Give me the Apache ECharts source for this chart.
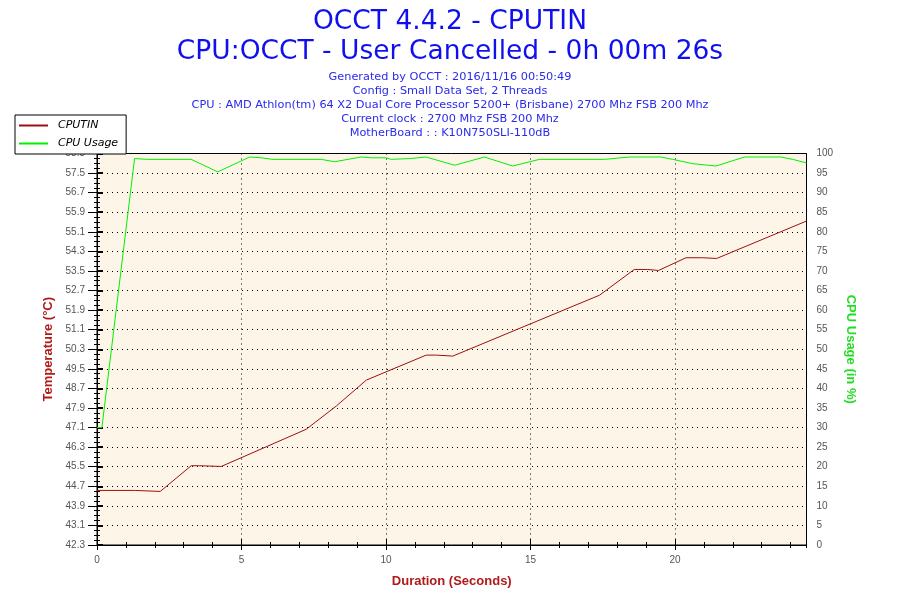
<!DOCTYPE html>
<html>
<head>
<meta charset="utf-8">
<script src="https://cdn.jsdelivr.net/npm/echarts@6/dist/echarts.min.js"></script>
<style>
html,body{margin:0;padding:0;background:#fff;}
#chart{width:900px;height:600px;}
</style>
</head>
<body>
<div id="chart"></div>
<script>
// ---- data ----
var titleLines = ['OCCT 4.4.2 - CPUTIN', 'CPU:OCCT - User Cancelled - 0h 00m 26s'];
var infoLines = [
  'Generated by OCCT : 2016/11/16 00:50:49',
  'Config : Small Data Set, 2 Threads',
  'CPU : AMD Athlon(tm) 64 X2 Dual Core Processor 5200+ (Brisbane) 2700 Mhz FSB 200 Mhz',
  'Current clock : 2700 Mhz FSB 200 Mhz',
  'MotherBoard : : K10N750SLI-110dB'
];
var seriesNames = ['CPUTIN', 'CPU Usage'];

var tempTime  = [0, 1.30, 1.33, 2.19, 3.26, 3.55, 3.61, 4.30, 7.24, 8.28, 9.32, 11.39, 11.75, 11.80, 12.31, 17.39, 18.59, 19.05, 19.11, 19.43, 20.38, 20.95, 21.01, 21.44, 24.55];
var tempValue = [44.53, 44.53, 44.49, 44.49, 45.54, 45.54, 45.51, 45.51, 47.03, 47.98, 49.04, 50.06, 50.06, 50.02, 50.02, 52.51, 53.56, 53.56, 53.52, 53.52, 54.04, 54.04, 54.01, 54.01, 55.54];

var cpuTime  = [0, 0.17, 1.30, 1.76, 3.26, 4.18, 5.28, 5.68, 6.09, 7.76, 8.22, 9.14, 9.49, 10.00, 10.18, 10.81, 11.39, 12.37, 13.41, 14.38, 15.31, 17.56, 18.42, 19.52, 19.92, 20.61, 21.42, 22.40, 23.67, 24.07, 24.55];
var cpuValue = [30, 30, 98.7, 98.5, 98.5, 95.3, 99.1, 98.9, 98.5, 98.5, 97.9, 99.1, 98.9, 98.9, 98.5, 98.7, 99.1, 97.0, 99.1, 96.8, 98.5, 98.5, 99.1, 99.1, 98.5, 97.4, 96.8, 99.1, 99.1, 98.5, 97.6];

var xMin = 0, xMax = 24.55, xStep = 5, xMinorStep = 1;
var tMin = 42.3, tMax = 58.3, tStep = 0.8;
var cMin = 0, cMax = 100, cStep = 5;

function zip(a, b) { return a.map(function (v, i) { return [v, b[i]]; }); }

var FONT = 'DejaVu Sans';
var tickColor = '#000';
var labelColor = '#555';
var tempColor = '#9e0f0f';
var cpuColor = '#00f000';

function xAx(opts) {
  var base = {
    type: 'value', min: xMin, max: xMax, interval: xStep, position: 'bottom',
    axisLine: { show: false }, axisTick: { show: false }, axisLabel: { show: false },
    splitLine: { show: false }
  };
  return Object.assign(base, opts);
}
function yAx(opts, isTemp) {
  var base = {
    type: 'value',
    min: isTemp ? tMin : cMin, max: isTemp ? tMax : cMax, interval: isTemp ? tStep : cStep,
    position: isTemp ? 'left' : 'right',
    axisLine: { show: false }, axisTick: { show: false }, axisLabel: { show: false },
    splitLine: { show: false }
  };
  return Object.assign(base, opts);
}

var titles = [
  { text: titleLines[0], left: 'center', top: 9, padding: 0,
    textStyle: { fontFamily: FONT, fontSize: 26.5, fontWeight: 'normal', color: '#1010ee' } },
  { text: titleLines[1], left: 'center', top: 39, padding: 0,
    textStyle: { fontFamily: FONT, fontSize: 26.5, fontWeight: 'normal', color: '#1010ee' } }
];
infoLines.forEach(function (line, i) {
  titles.push({ text: line, left: 'center', top: 72 + i * 14, padding: 0,
    textStyle: { fontFamily: FONT, fontSize: 11.3, fontWeight: 'normal', color: '#2a2aee' } });
});

var chart = echarts.init(document.getElementById('chart'), null, { renderer: 'canvas' });
chart.setOption({
  backgroundColor: '#ffffff',
  animation: false,
  title: titles,
  legend: {
    left: 15, top: 115, orient: 'vertical',
    padding: [5, 8, 5, 3], itemGap: 7, itemWidth: 29, itemHeight: 10,
    backgroundColor: '#fff', borderColor: '#000', borderWidth: 1,
    data: seriesNames,
    itemStyle: { opacity: 0 },
    textStyle: { fontFamily: FONT, fontSize: 11, fontStyle: 'italic', color: '#000', padding: [0, 0, 0, 5] }
  },
  grid: {
    left: 97, right: 93.5, top: 153.5, bottom: 55,
    show: true, backgroundColor: '#fdf6e8', borderColor: '#000', borderWidth: 1
  },
  xAxis: [
    xAx({
      axisLine: { show: true, lineStyle: { color: '#000', width: 1 } },
      axisTick: { show: true, inside: false, length: 5, lineStyle: { color: tickColor } },
      axisLabel: { show: true, showMaxLabel: false, color: labelColor, fontFamily: 'Liberation Sans', fontSize: 10, margin: 10 },
      splitLine: { show: true, lineStyle: { color: '#000', width: 1, type: [1, 4] } },
      name: 'Duration (Seconds)', nameLocation: 'middle', nameGap: 30,
      nameTextStyle: { fontFamily: 'Liberation Sans', fontSize: 13, fontWeight: 'bold', color: '#b11a1a' }
    }),
    xAx({ axisTick: { show: true, inside: true, length: 6, lineStyle: { color: tickColor } } }),
    xAx({ interval: xMinorStep, axisTick: { show: true, inside: true, length: 3, lineStyle: { color: tickColor } } }),
    xAx({ interval: xMinorStep, axisTick: { show: true, inside: false, length: 3, lineStyle: { color: tickColor } } })
  ],
  yAxis: [
    yAx({
      axisLine: { show: true, lineStyle: { color: '#000', width: 1 } },
      axisTick: { show: true, inside: false, length: 8, lineStyle: { color: tickColor } },
      minorTick: { show: true, splitNumber: 4, length: 3, lineStyle: { color: tickColor } },
      axisLabel: { show: true, color: labelColor, fontFamily: 'Liberation Sans', fontSize: 10, margin: 12,
        formatter: function (v) { return v.toFixed(1); } },
      splitLine: { show: true, lineStyle: { color: '#000', width: 1, type: [1, 4] } },
      name: 'Temperature (°C)', nameLocation: 'middle', nameGap: 40, nameRotate: 90,
      nameTextStyle: { fontFamily: 'Liberation Sans', fontSize: 13, fontWeight: 'bold', color: '#b11a1a' }
    }, true),
    yAx({
      axisLine: { show: true, lineStyle: { color: '#000', width: 1 } },
      axisTick: { show: true, inside: false, length: 5, lineStyle: { color: tickColor } },
      minorTick: { show: true, splitNumber: 2, length: 3, lineStyle: { color: tickColor } },
      axisLabel: { show: true, color: labelColor, fontFamily: 'Liberation Sans', fontSize: 10, margin: 10 },
      name: 'CPU Usage (in %)', nameLocation: 'middle', nameGap: 35, nameRotate: -90,
      nameTextStyle: { fontFamily: 'Liberation Sans', fontSize: 13, fontWeight: 'bold', color: '#22dd22' }
    }, false),
    yAx({
      axisTick: { show: true, inside: true, length: 6, lineStyle: { color: tickColor, width: 2 } },
      minorTick: { show: true, splitNumber: 4, length: 3, lineStyle: { color: tickColor } }
    }, true),
    yAx({
      axisTick: { show: true, inside: true, length: 9, lineStyle: { color: tickColor } },
      minorTick: { show: true, splitNumber: 2, length: 3, lineStyle: { color: tickColor } }
    }, false)
  ],
  series: [
    { name: seriesNames[0], type: 'line', xAxisIndex: 0, yAxisIndex: 0,
      data: zip(tempTime, tempValue), symbol: 'none', showSymbol: false,
      lineStyle: { color: tempColor, width: 1 }, itemStyle: { color: tempColor }, z: 3 },
    { name: seriesNames[1], type: 'line', xAxisIndex: 0, yAxisIndex: 1,
      data: zip(cpuTime, cpuValue), symbol: 'none', showSymbol: false,
      lineStyle: { color: cpuColor, width: 1 }, itemStyle: { color: cpuColor }, z: 3 }
  ]
});
</script>
</body>
</html>
